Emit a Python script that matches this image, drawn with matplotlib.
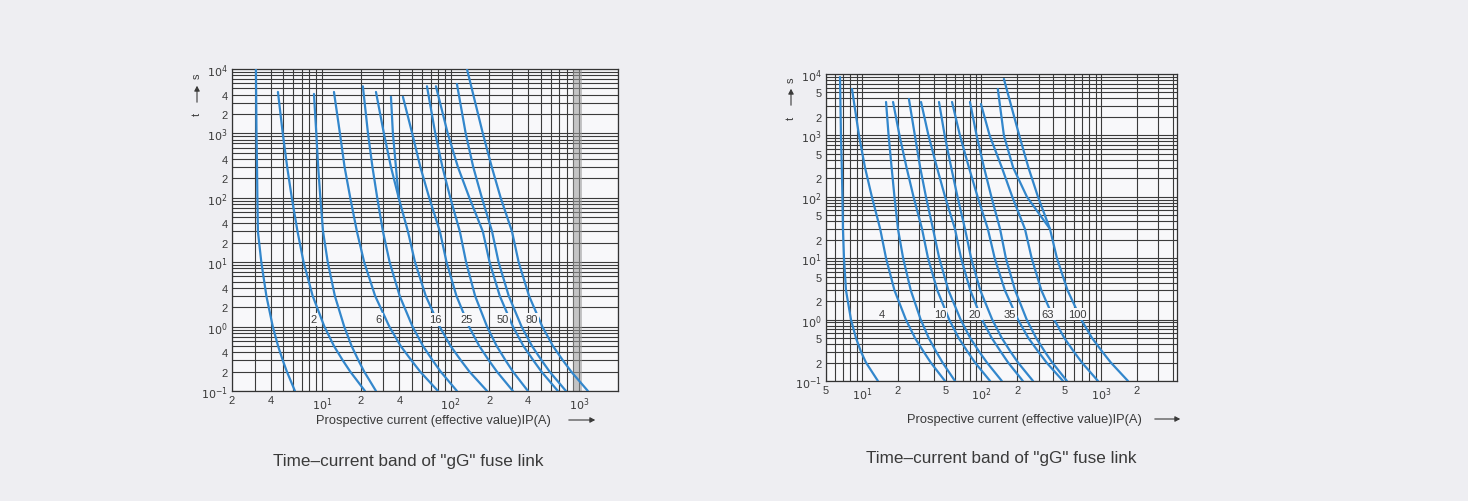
import numpy as np
import matplotlib
matplotlib.use('Agg')
import matplotlib.pyplot as plt
from matplotlib.ticker import FixedLocator, FixedFormatter, LogLocator, NullFormatter

plt.rcParams['font.family'] = ['Liberation Sans', 'DejaVu Sans']

# ---------------- data ----------------
levels = [1000, 300, 100, 30, 10, 3, 1, 0.5, 0.3, 0.2, 0.1]      # time levels (s)

# left chart: start point of each curve + current (A) at each time level
left_start_time = [10000, 4400, 4100, 4400, 5400, 4400, 3700, 3700, 5400, 5400, 5850, 10000]
left_start_current = [3.07, 4.55, 8.67, 12.4, 20.8, 26.3, 34.4, 42.6, 65.5, 76.9, 112, 134]
left_level_currents = [
    [3.10, 3.13, 3.15, 3.18, 3.38, 3.70, 4.15, 4.56, 4.96, 5.34, 6.17],
    [4.96, 5.37, 5.83, 6.46, 7.20, 8.47, 10.45, 12.4, 14.5, 16.6, 21.6],
    [9.04, 9.35, 9.72, 10.2, 11.1, 12.6, 14.9, 17.0, 19.2, 21.3, 26.3],
    [13.8, 15.0, 16.6, 18.7, 21.3, 25.9, 33.4, 40.9, 49.5, 58.0, 79.7],
    [22.8, 24.7, 26.9, 29.8, 33.6, 40.2, 50.6, 61.0, 72.4, 83.7, 112],
    [30.3, 34.4, 39.5, 46.6, 52.9, 64.1, 82.1, 100, 120, 140, 192],
    [35.6, 37.6, 39.5],
    [50.3, 58.2, 68.2, 82.6, 93.0, 111, 139, 167, 198, 229, 305],
    [76.0, 86.4, 99.5, 118, 132, 155, 192, 228, 267, 305, 399],
    [95.0, 114, 140, 178, 201, 241, 305, 368, 439, 508, 682],
    [131, 150, 175, 210, 236, 283, 356, 429, 509, 588, 788],
    [178, 209, 245, 300, 338, 407, 516, 624, 745, 866, 1167],
]
left_band_labels = ['2', '6', '16', '25', '50', '80']
left_label_current = [8.67, 27.4, 75.6, 134, 255, 428]
left_label_time = 1.3
left_xticks = [2, 4, 10, 20, 40, 100, 200, 400, 1000]
left_xticklabels = ['2', '4', '$10^1$', '2', '4', '$10^2$', '2', '4', '$10^3$']
left_yticks = [0.1, 0.2, 0.4, 1, 2, 4, 10, 20, 40, 100, 200, 400, 1000, 2000, 4000, 10000]
left_yticklabels = ['$10^{-1}$', '2', '4', '$10^0$', '2', '4', '$10^1$', '2', '4',
                    '$10^2$', '2', '4', '$10^3$', '2', '4', '$10^4$']

# right chart
right_start_time = [8930, 5700, 3500, 3500, 3920, 3500, 3500, 3500, 3500, 3240, 5700, 8300]
right_start_current = [6.55, 8.25, 15.9, 18.2, 24.7, 31.2, 44.1, 56.7, 80.1, 99.0, 137, 154]
right_level_currents = [
    [6.67, 6.78, 6.86, 6.93, 7.07, 7.35, 8.09, 8.91, 9.81, 10.8, 13.6],
    [9.44, 10.6, 12.1, 14.2, 15.9, 18.7, 23.3, 27.8, 32.8, 37.6, 49.5],
    [16.7, 17.7, 18.7, 20.0, 22.1, 25.6, 31.0, 36.2, 41.8, 47.2, 60.0],
    [20.6, 23.6, 27.0, 31.8, 35.7, 42.7, 53.7, 64.5, 76.5, 88.2, 118],
    [27.7, 30.7, 34.3, 39.3, 44.3, 52.9, 66.9, 80.6, 95.7, 111, 148],
    [36.0, 42.4, 49.6, 60.0, 67.5, 80.6, 101, 122, 145, 167, 222],
    [49.2, 55.8, 63.0, 72.8, 81.9, 97.7, 123, 148, 175, 202, 270],
    [66.0, 78.5, 92.8, 113, 129, 157, 202, 247, 299, 350, 481],
    [91.0, 105, 121, 143, 160, 191, 239, 287, 339, 391, 519],
    [117, 148, 181, 231, 263, 317, 406, 494, 593, 692, 944],
    [154, 184, 240, 374],
    [207, 247, 297, 374, 428, 525, 683, 842, 1025, 1208, 1682],
]
right_band_labels = ['4', '10', '20', '35', '63', '100']
right_label_current = [14.7, 44.9, 88.3, 173, 360, 640]
right_label_time = 1.23
right_xticks = [5, 10, 20, 50, 100, 200, 500, 1000, 2000]
right_xticklabels = ['5', '$10^1$', '2', '5', '$10^2$', '2', '5', '$10^3$', '2']
right_yticks = [0.1, 0.2, 0.5, 1, 2, 5, 10, 20, 50, 100, 200, 500, 1000, 2000, 5000, 10000]
right_yticklabels = ['$10^{-1}$', '2', '5', '$10^0$', '2', '5', '$10^1$', '2', '5',
                     '$10^2$', '2', '5', '$10^3$', '2', '5', '$10^4$']

xlabel_text = 'Prospective current (effective value)IP(A)'
caption_text = 'Time\u2013current band of "gG" fuse link'

# ---------------- style ----------------
W, H = 1468, 502
BG = '#eeeef2'
FACE = '#f8f8fa'
GRID = '#3b3b3b'
CURVE = '#3387cc'
TXT = '#3a3a3a'

fig = plt.figure(figsize=(W / 100, H / 100), dpi=100, facecolor=BG)


def px_axes(x0, y0, x1, y1):
    return fig.add_axes([x0 / W, 1 - y1 / H, (x1 - x0) / W, (y1 - y0) / H])


def setup(ax, xlim, xticks, xlabels, yticks, ylabels):
    ax.set_facecolor(FACE)
    ax.set_xscale('log')
    ax.set_yscale('log')
    ax.set_xlim(*xlim)
    ax.set_ylim(0.1, 10000)
    ax.xaxis.set_major_locator(FixedLocator(xticks))
    ax.xaxis.set_major_formatter(FixedFormatter(xlabels))
    ax.yaxis.set_major_locator(FixedLocator(yticks))
    ax.yaxis.set_major_formatter(FixedFormatter(ylabels))
    ax.xaxis.set_minor_locator(LogLocator(base=10, subs=np.arange(1, 10), numticks=100))
    ax.yaxis.set_minor_locator(LogLocator(base=10, subs=np.arange(1, 10), numticks=100))
    ax.xaxis.set_minor_formatter(NullFormatter())
    ax.yaxis.set_minor_formatter(NullFormatter())
    ax.tick_params(which='both', length=0, labelsize=8, colors=TXT, pad=3)
    ax.grid(which='both', color=GRID, lw=0.8, zorder=1)
    ax.set_axisbelow(True)
    for s in ax.spines.values():
        s.set_color('#333333')
        s.set_linewidth(0.9)


def draw_curves(ax, st, si, lc):
    for t0, i0, cur in zip(st, si, lc):
        ts = [t0] + levels[:len(cur)]
        cs = [i0] + cur
        ax.plot(cs, ts, color=CURVE, lw=1.6, zorder=3, solid_capstyle='round',
                solid_joinstyle='round')


def draw_labels(ax, labels, currents, t):
    for lab, c in zip(labels, currents):
        ax.text(c, t, lab, fontsize=8, color=TXT, ha='center', va='center', zorder=4,
                bbox=dict(boxstyle='square,pad=0.12', fc=FACE, ec='none'))


# left chart
axL = px_axes(232, 70, 618, 392)
setup(axL, (2, 2000), left_xticks, left_xticklabels, left_yticks, left_yticklabels)
axL.axvspan(890, 1045, color='#9a9a9a', alpha=0.55, zorder=1.5, lw=0)
draw_curves(axL, left_start_time, left_start_current, left_level_currents)
draw_labels(axL, left_band_labels, left_label_current, left_label_time)

# right chart
axR = px_axes(826, 75, 1177, 382)
setup(axR, (5, 4325), right_xticks, right_xticklabels, right_yticks, right_yticklabels)
draw_curves(axR, right_start_time, right_start_current, right_level_currents)
draw_labels(axR, right_band_labels, right_label_current, right_label_time)


def fig_text(x, y, s, **kw):
    fig.text(x / W, 1 - y / H, s, **kw)


def fig_arrow(x0, y0, x1, y1):
    fig.add_artist(matplotlib.patches.FancyArrowPatch(
        (x0 / W, 1 - y0 / H), (x1 / W, 1 - y1 / H), transform=fig.transFigure,
        arrowstyle='-|>,head_length=3,head_width=1.6', color=TXT, lw=0.8))


# axis labels: s / t with arrow
for (x, ys, ya0, ya1, yt) in [(197, 76, 106, 84, 114), (791, 80, 109, 87, 118)]:
    fig_text(x, ys, 's', fontsize=8, color=TXT, rotation=90, ha='center', va='center')
    fig_arrow(x, ya0, x, ya1)
    fig_text(x, yt, 't', fontsize=8, color=TXT, rotation=90, ha='center', va='center')

# x labels
fig_text(316, 421, xlabel_text, fontsize=9.3, color=TXT, ha='left', va='center')
fig_arrow(566, 421, 598, 421)
fig_text(907, 420, xlabel_text, fontsize=9.3, color=TXT, ha='left', va='center')
fig_arrow(1152, 420, 1183, 420)

# captions
fig_text(408, 462, caption_text, fontsize=12.3, color=TXT, ha='center', va='center')
fig_text(1001, 459, caption_text, fontsize=12.3, color=TXT, ha='center', va='center')

fig.savefig('out.png', dpi=100, facecolor=BG)
